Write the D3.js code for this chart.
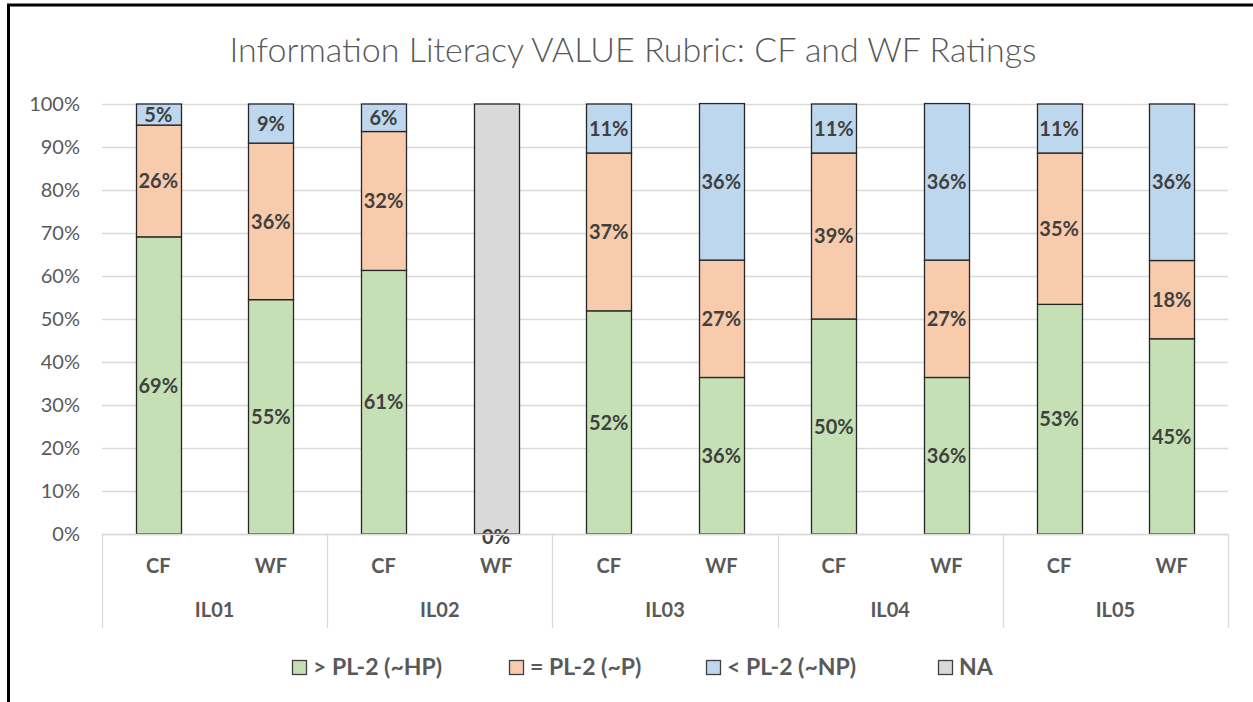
<!DOCTYPE html>
<html>
<head>
<meta charset="utf-8">
<script src="https://cdn.jsdelivr.net/npm/d3@7"></script>
<style>
  body { margin: 0; background: #fff; }
  svg { display: block; font-family: Lato, "Open Sans", sans-serif; }
</style>
</head>
<body>
<div id="chart"></div>
<script>
// data
var groups = ["IL01", "IL02", "IL03", "IL04", "IL05"];
var raters = ["CF", "WF"];
var seriesNames = ["> PL-2 (~HP)", "= PL-2 (~P)", "< PL-2 (~NP)", "NA"];
var seriesColors = ["#C5E0B4", "#F8CBAD", "#BDD7EE", "#D9D9D9"];
// one value per bar, order IL01 CF, IL01 WF, IL02 CF, ...
var aboveHP = [69.1, 54.5, 61.3, 0, 51.9, 36.4, 50.0, 36.4, 53.4, 45.4];
var equalP  = [26.0, 36.4, 32.3, 0, 36.7, 27.3, 38.6, 27.3, 35.2, 18.2];
var belowNP = [ 4.9,  9.1,  6.4, 0, 11.4, 36.4, 11.4, 36.4, 11.4, 36.4];
var naVals  = [   0,    0,    0, 100, 0,    0,    0,    0,    0,    0];
var yTicks = [0, 10, 20, 30, 40, 50, 60, 70, 80, 90, 100];

var width = 1253, height = 702;
var margin = {left: 102, right: 25, top: 104, bottom: 168};

var bars = [];
groups.forEach(function(g) {
  raters.forEach(function(r) { bars.push(g + "|" + r); });
});
var rows = bars.map(function(b, i) {
  return {key: b, s0: aboveHP[i], s1: equalP[i], s2: belowNP[i], s3: naVals[i]};
});

const svg = d3.select("#chart").append("svg")
    .attr("width", width)
    .attr("height", height);

// chart border (top + left only visible)
svg.append("path")
    .attr("d", "M 8.5 702 L 8.5 5 L 1253 5")
    .attr("fill", "none")
    .attr("stroke", "#000")
    .attr("stroke-width", 3);

svg.append("text")
    .attr("x", 633)
    .attr("y", 62)
    .attr("text-anchor", "middle")
    .style("font-size", "34px")
    .style("font-weight", 300)
    .attr("fill", "#595959")
    .text("Information Literacy VALUE Rubric: CF and WF Ratings");

var x = d3.scaleBand()
    .domain(bars)
    .range([margin.left, width - margin.right])
    .paddingInner(0.6)
    .paddingOuter(0.3);

var y = d3.scaleLinear()
    .domain([0, 100])
    .range([height - margin.bottom, margin.top]);

// gridlines
svg.append("g")
    .selectAll("line")
    .data(yTicks)
    .join("line")
    .attr("x1", margin.left)
    .attr("x2", width - margin.right)
    .attr("y1", d => Math.round(y(d)) + 0.5)
    .attr("y2", d => Math.round(y(d)) + 0.5)
    .attr("stroke", "#D9D9D9")
    .attr("stroke-width", 1.3);

// y labels
svg.append("g")
    .selectAll("text")
    .data(yTicks)
    .join("text")
    .attr("x", 80)
    .attr("y", d => y(d))
    .attr("dy", "0.36em")
    .attr("text-anchor", "end")
    .style("font-size", "20px")
    .attr("fill", "#595959")
    .text(d => d + "%");

// stacked bars
var stack = d3.stack().keys(["s0", "s1", "s2", "s3"]);
var layers = stack(rows);

var layerG = svg.append("g")
    .selectAll("g")
    .data(layers)
    .join("g")
    .attr("fill", (d, i) => seriesColors[i]);

layerG.selectAll("rect")
    .data(d => d)
    .join("rect")
    .attr("x", d => Math.round(x(d.data.key)) + 0.5)
    .attr("y", d => y(d[1]))
    .attr("width", Math.round(x.bandwidth()))
    .attr("height", d => y(d[0]) - y(d[1]))
    .attr("stroke", d => (d[1] - d[0]) > 0 ? "#262626" : "none")
    .attr("stroke-width", 1.3);

// value labels (first three series only)
var labelG = svg.append("g");
layers.slice(0, 3).forEach(function(layer, li) {
  labelG.selectAll(null)
    .data(layer.filter(d => (d[1] - d[0]) > 0 || (li === 0 && d.data.s3 > 0)))
    .join("text")
    .attr("x", d => x(d.data.key) + x.bandwidth() / 2)
    .attr("y", function(d) {
      var v = d[1] - d[0];
      return v > 0 ? y((d[0] + d[1]) / 2) : y(0) + 3;
    })
    .attr("dy", "0.36em")
    .attr("text-anchor", "middle")
    .style("font-size", "20px")
    .style("font-weight", 700)
    .attr("fill", "#404040")
    .text(d => Math.round(d[1] - d[0]) + "%");
});

// category axis
var axisBase = y(0);
var groupW = (width - margin.right - margin.left) / groups.length;
var sepG = svg.append("g");
sepG.append("line")
    .attr("x1", margin.left).attr("x2", width - margin.right)
    .attr("y1", Math.round(axisBase) + 0.5).attr("y2", Math.round(axisBase) + 0.5)
    .attr("stroke", "#D9D9D9").attr("stroke-width", 1.3);
sepG.selectAll("line.sep")
    .data(d3.range(groups.length + 1))
    .join("line")
    .attr("class", "sep")
    .attr("x1", d => Math.round(margin.left + d * groupW) + 0.5)
    .attr("x2", d => Math.round(margin.left + d * groupW) + 0.5)
    .attr("y1", axisBase)
    .attr("y2", 628)
    .attr("stroke", "#D9D9D9")
    .attr("stroke-width", 1.3);

svg.append("g")
    .selectAll("text")
    .data(bars)
    .join("text")
    .attr("x", d => x(d) + x.bandwidth() / 2)
    .attr("y", 566)
    .attr("dy", "0.36em")
    .attr("text-anchor", "middle")
    .style("font-size", "20px")
    .style("font-weight", 700)
    .attr("fill", "#595959")
    .text(d => d.split("|")[1]);

svg.append("g")
    .selectAll("text")
    .data(groups)
    .join("text")
    .attr("x", (d, i) => margin.left + (i + 0.5) * groupW)
    .attr("y", 610)
    .attr("dy", "0.36em")
    .attr("text-anchor", "middle")
    .style("font-size", "20px")
    .style("font-weight", 700)
    .attr("fill", "#595959")
    .text(d => d);

// legend
var legendX = [292, 509, 706, 938];
var legend = svg.append("g")
    .selectAll("g")
    .data(seriesNames)
    .join("g")
    .attr("transform", (d, i) => "translate(" + legendX[i] + ",667)");
legend.append("rect")
    .attr("x", 0.5).attr("y", -6.5)
    .attr("width", 14).attr("height", 14)
    .attr("fill", (d, i) => seriesColors[i])
    .attr("stroke", "#404040")
    .attr("stroke-width", 1.3);
legend.append("text")
    .attr("x", 21)
    .attr("y", 0)
    .attr("dy", "0.36em")
    .style("font-size", "23px")
    .style("font-weight", 700)
    .attr("fill", "#595959")
    .text(d => d);
</script>
</body>
</html>
